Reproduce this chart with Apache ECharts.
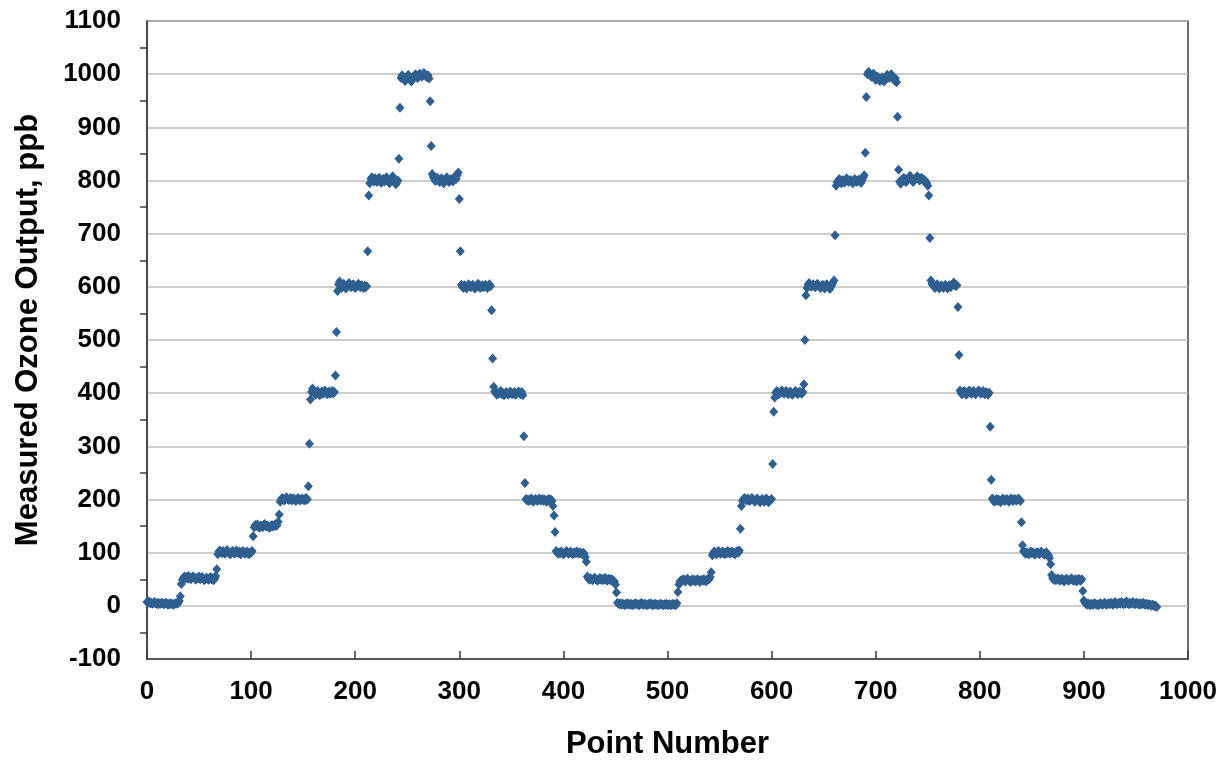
<!DOCTYPE html>
<html>
<head>
<meta charset="utf-8">
<script src="https://cdn.jsdelivr.net/npm/echarts@6/dist/echarts.min.js"></script>
<style>
html,body{margin:0;padding:0;background:#fff;}
#chart{width:1232px;height:765px;}
</style>
</head>
<body>
<div id="chart"></div>
<script>
// Measured ozone output (ppb) by point number; point number = position in the sequence (starting at 0)
const cycle1Rise = [
  7,6,8,5,6,4,5,7,5,4,6,3,5,4,6,5,3,4,6,5,2,4,3,5,4,2,3,5,4,6,5,9,
  18,
  41,49,53,55,52,54,51,56,53,50,52,55,54,51,49,53,52,55,50,52,54,51,48,50,53,52,49,51,54,50,52,48,51,56,
  69,
  97,102,104,101,99,103,100,98,102,105,101,99,97,100,103,102,98,101,104,100,99,102,97,100,103,101,98,100,102,99,97,101,100,103,
  131,
  148,152,150,153,149,147,151,150,148,152,154,150,149,151,148,147,150,152,149,151,153,150,152,158,
  172,
  196,201,203,200,198,202,204,201,199,200,203,198,201,202,199,197,200,203,201,198,200,202,199,201,198,203,200,
  225,305,388,
  402,409,405,400,397,401,404,398,396,400,403,399,401,405,402,398,400,403,399,401,404,400,402,
  433,515,
  592,605,610,604,598,601,606,603,597,600,604,607,602,599,601,605,603,598,600,602,606,601,599,603,600,598,602,599,601,
  667,772,
  795,803,806,801,798,804,800,797,802,805,799,796,801,803,798,800,806,802,797,795,800,804,808,801,798,793,796,800,
  841,937
];
const cycle1Fall = [
  993,998,995,990,987,992,996,999,994,989,986,991,995,998,1000,996,993,997,1001,999,995,998,1002,1000,996,994,998,992,
  949,865,
  812,806,803,799,802,805,800,797,801,804,798,795,799,802,806,800,797,799,803,801,798,805,808,803,810,815,
  765,667,
  604,600,598,603,601,597,600,605,602,599,601,604,600,597,599,602,606,601,598,600,603,599,601,604,600,598,602,605,601,
  556,465,
  412,403,400,397,401,399,402,404,398,400,396,399,402,400,397,401,403,399,398,400,402,397,399,401,403,400,398,402,396,
  319,231,
  201,198,200,197,199,202,200,196,198,201,199,197,200,202,198,199,201,197,200,198,196,199,201,198,200,197,188,170,
  139,
  103,100,98,101,99,102,100,97,99,101,103,100,98,100,102,99,97,100,101,99,102,100,98,101,99,97,100,98,92,
  83,
  55,51,49,52,50,48,51,53,50,49,47,50,52,49,51,48,50,53,49,47,50,51,48,50,49,47,46,40,
  25,
  6,4,3,5,2,4,3,1,4,3,5,2,3,4,1,3,2,5,4,2,3,1,4,6,3,2,4,3,1,2,4,3,5,2,1,3,4,2,3,1,2,4,3,2,1,3,2,4,1,2,3,1,2,4,2,3,1,5
];
const cycle2Rise = [
  26,
  40,46,48,47,50,49,46,48,51,49,47,45,48,50,47,49,46,48,50,47,45,48,49,47,50,48,46,49,51,50,54,
  63,
  95,100,102,99,97,101,103,100,98,99,102,100,97,101,99,103,100,98,101,102,99,100,97,101,103,100,104,
  145,
  188,197,201,203,200,198,202,199,197,200,203,201,198,196,199,202,200,197,195,199,201,198,196,200,202,198,195,197,199,201,
  267,365,
  392,401,404,402,398,400,403,405,401,399,402,404,400,398,401,403,399,397,400,402,404,401,398,400,403,401,399,402,
  417,500,584,
  598,604,607,603,600,602,605,601,599,603,606,602,600,598,601,604,600,597,603,605,601,599,596,600,604,608,612,
  697,
  790,797,800,803,798,795,801,799,796,800,804,802,797,799,801,798,795,800,803,799,797,800,802,798,796,801,805,810,
  852,957
];
const cycle2Fall = [
  1000,1004,1002,997,995,999,1001,993,989,992,995,990,987,991,994,989,986,990,995,999,996,993,997,1000,995,991,988,992,985,
  920,820,
  798,794,800,803,805,801,797,799,802,806,809,804,800,797,801,803,806,808,804,800,802,805,803,799,801,798,795,790,
  772,692,
  612,606,603,600,598,602,605,601,597,599,603,600,598,602,604,600,597,601,603,599,602,605,608,604,601,603,
  562,472,
  405,400,398,402,404,401,397,400,403,405,401,399,402,404,400,398,401,403,405,402,399,401,404,400,398,402,400,397,401,
  337,237,
  202,198,196,199,201,197,200,198,195,199,202,200,197,199,201,198,196,200,202,199,197,201,200,198,199,202,200,197,
  157,114,
  103,100,98,101,99,97,100,102,99,101,98,96,99,101,100,97,99,102,100,98,96,99,101,97,95,90,
  78,
  58,52,49,51,48,50,52,49,47,50,51,48,46,49,51,50,47,48,50,52,49,47,48,50,46,49,51,48,47,50,
  28,10,
  6,4,2,5,3,1,4,3,2,5,4,2,3,1,4,5,3,2,4,6,3,2,4,5,3,6,4,2,5,7,4,3,5,6,4,7,5,3,6,4,8,5,3,6,4,5,7,4,3,5,6,4,2,5,3,4,6,3,2,4,3,1,3,2,0,2,1,-1,0,-2
];
const xTicks = [0,100,200,300,400,500,600,700,800,900,1000];
const yTicks = [-100,0,100,200,300,400,500,600,700,800,900,1000,1100];
const xTitle = 'Point Number';
const yTitle = 'Measured Ozone Output, ppb';

const ozone = cycle1Rise.concat(cycle1Fall, cycle2Rise, cycle2Fall);
const points = ozone.map((v, i) => [i, v]);

const FONT = '"Liberation Sans", Arial, sans-serif';
const chart = echarts.init(document.getElementById('chart'), null, {renderer: 'canvas'});
chart.setOption({
  animation: false,
  backgroundColor: '#ffffff',
  grid: {
    left: 147, right: 44, top: 21, bottom: 105,
    show: true, borderColor: '#3c3c3c', borderWidth: 1.5, backgroundColor: 'transparent'
  },
  xAxis: {
    type: 'value',
    min: xTicks[0], max: xTicks[xTicks.length - 1], interval: 100,
    name: xTitle, nameLocation: 'middle', nameGap: 70,
    nameTextStyle: {fontFamily: FONT, fontWeight: 'bold', fontSize: 31, color: '#000'},
    axisLine: {show: true, onZero: false, lineStyle: {color: '#3c3c3c', width: 1.5}},
    axisTick: {show: true, inside: true, length: 8, lineStyle: {color: '#3c3c3c', width: 1.5}},
    axisLabel: {fontFamily: FONT, fontWeight: 'bold', fontSize: 26, color: '#000', margin: 20,
      formatter: v => String(v)},
    splitLine: {show: false}
  },
  yAxis: {
    type: 'value',
    min: yTicks[0], max: yTicks[yTicks.length - 1], interval: 100,
    name: yTitle, nameLocation: 'middle', nameGap: 103, nameRotate: 90,
    nameTextStyle: {fontFamily: FONT, fontWeight: 'bold', fontSize: 31, color: '#000', padding: [0, 0, 0, 20]},
    axisLine: {show: true, onZero: false, lineStyle: {color: '#3c3c3c', width: 1.5}},
    axisTick: {show: false},
    minorTick: {show: true, splitNumber: 2, length: 7, lineStyle: {color: '#3c3c3c', width: 1.5}},
    minorSplitLine: {show: false},
    axisLabel: {fontFamily: FONT, fontWeight: 'bold', fontSize: 26, color: '#000', margin: 26,
      formatter: v => String(v)},
    splitLine: {show: true, lineStyle: {color: '#bdbdbd', width: 1.5}}
  },
  series: [{
    type: 'scatter',
    data: points,
    symbol: 'diamond',
    symbolSize: [9, 10],
    itemStyle: {color: '#2f5f8f', opacity: 1},
    emphasis: {disabled: true}
  }]
});
</script>
</body>
</html>
